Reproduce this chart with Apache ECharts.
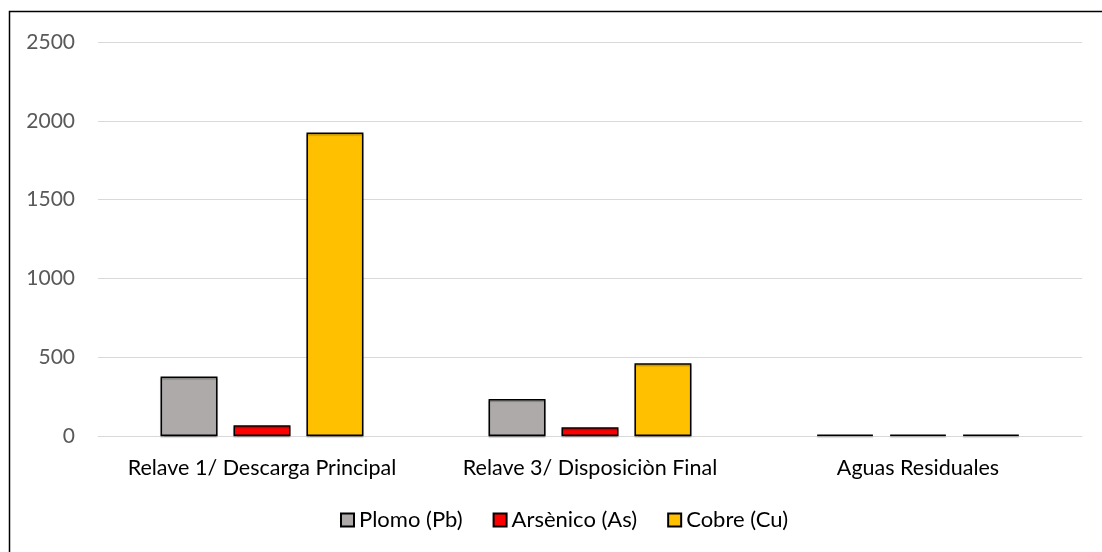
<!DOCTYPE html>
<html>
<head>
<meta charset="utf-8">
<script src="https://cdn.jsdelivr.net/npm/echarts@6/dist/echarts.min.js"></script>
<style>
  html, body { margin: 0; padding: 0; background: #fff; }
  #chart { width: 1102px; height: 552px; }
</style>
</head>
<body>
<div id="chart"></div>
<script>
// Sampling sites and metal concentrations
const categories = ['Relave 1/ Descarga Principal', 'Relave 3/ Disposiciòn Final', 'Aguas Residuales'];
const plomo = [378, 235, 8];
const arsenico = [68, 55, 8];
const cobre = [1925, 461, 8];
const yTicks = [0, 500, 1000, 1500, 2000, 2500];

const FONT = 'Lato';
const chart = echarts.init(document.getElementById('chart'));

const barStyle = (color) => ({
  color: color,
  borderColor: '#000',
  borderWidth: 1.5,
  shadowColor: 'rgba(0,0,0,0.25)',
  shadowOffsetY: 1.5,
  shadowBlur: 1
});

chart.setOption({
  animation: false,
  textStyle: { fontFamily: FONT },
  graphic: [{
    type: 'rect',
    shape: { x: 9.5, y: 11.5, width: 1200, height: 600 },
    style: { fill: 'none', stroke: '#000', lineWidth: 1.5 },
    silent: true
  }],
  grid: { left: 98, right: 20, top: 42, bottom: 116, containLabel: false },
  legend: {
    bottom: 16,
    left: 335,
    padding: [5, 5],
    icon: 'rect',
    itemWidth: 13,
    itemHeight: 13,
    itemGap: 30,
    textStyle: { fontSize: 22, color: '#000', fontFamily: FONT },
    data: ['Plomo (Pb)', 'Arsènico (As)', 'Cobre (Cu)']
  },
  xAxis: {
    type: 'category',
    data: categories,
    axisLine: { lineStyle: { color: '#d9d9d9', width: 1 } },
    axisTick: { show: false },
    axisLabel: { fontSize: 21.5, color: '#000', margin: 21, fontFamily: FONT, interval: 0 }
  },
  yAxis: {
    type: 'value',
    min: yTicks[0],
    max: yTicks[yTicks.length - 1],
    interval: 500,
    axisLine: { show: false },
    axisTick: { show: false },
    splitLine: { lineStyle: { color: '#d9d9d9', width: 1 } },
    axisLabel: { fontSize: 21, color: '#595959', margin: 23, fontFamily: FONT, formatter: (v) => String(v) }
  },
  series: [
    { name: 'Plomo (Pb)', type: 'bar', data: plomo, barWidth: 57, barGap: '28%', itemStyle: barStyle('#AEAAAA') },
    { name: 'Arsènico (As)', type: 'bar', data: arsenico, barWidth: 57, itemStyle: barStyle('#FF0000') },
    { name: 'Cobre (Cu)', type: 'bar', data: cobre, barWidth: 57, itemStyle: barStyle('#FFC000') }
  ]
});
</script>
</body>
</html>
